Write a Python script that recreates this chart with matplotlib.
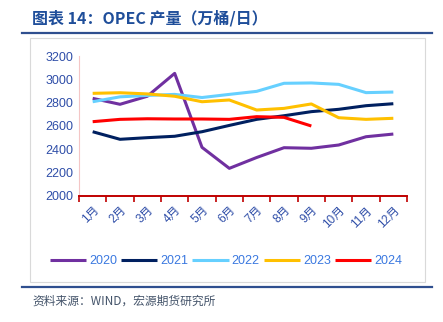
import matplotlib.pyplot as plt
from matplotlib.patches import Rectangle
from matplotlib.lines import Line2D
import numpy as np

months = ["1月", "2月", "3月", "4月", "5月", "6月", "7月", "8月", "9月", "10月", "11月", "12月"]

# OPEC output by month, 10k barrels/day
y2020 = [2837, 2786, 2855, 3051, 2417, 2237, 2330, 2414, 2409, 2437, 2508, 2531]
y2021 = [2551, 2486, 2500, 2512, 2551, 2605, 2657, 2688, 2723, 2743, 2774, 2791]
y2022 = [2808, 2850, 2862, 2871, 2844, 2871, 2897, 2966, 2969, 2957, 2886, 2891]
y2023 = [2880, 2885, 2875, 2855, 2808, 2823, 2737, 2751, 2789, 2671, 2657, 2666]
y2024 = [2637, 2657, 2662, 2660, 2660, 2657, 2680, 2674, 2600]

series = [("2020", y2020, "#7030a0"),
          ("2021", y2021, "#002060"),
          ("2022", y2022, "#66d0ff"),
          ("2023", y2023, "#ffc000"),
          ("2024", y2024, "#ff0000")]

W, H = 443, 322
fig = plt.figure(figsize=(W / 100, H / 100), dpi=100)

fnt = ["Liberation Sans", "Noto Sans CJK SC", "DejaVu Sans"]
cjk = ["Noto Sans CJK SC", "DejaVu Sans"]
tick_blue = "#2f4ea8"
leg_blue = "#3a78e0"

# header / footer rules and grey frame
fig.add_artist(Line2D([22 / W, 432 / W], [1 - 33 / H, 1 - 33 / H], color="#2f4f8f", lw=1.6))
fig.add_artist(Line2D([22 / W, 432 / W], [1 - 287 / H, 1 - 287 / H], color="#2f4f8f", lw=1.6))
fig.add_artist(Rectangle((30 / W, 1 - 282 / H), 395 / W, 244 / H, fill=False,
                         ec="#d9d9d9", lw=0.8, transform=fig.transFigure))

fig.text(32 / W, 1 - 18 / H, "图表 14：OPEC 产量（万桶/日）", family=cjk,
         fontsize=11.5, fontweight="bold", color="#1f4e9a", va="center")
fig.text(32 / W, 1 - 301 / H, "资料来源：WIND，宏源期货研究所", family=cjk,
         fontsize=8.5, color="#44546a", va="center", style="italic")

ax = fig.add_axes([79 / W, 1 - 196 / H, 328 / W, 140 / H])
x = np.arange(len(months))
for name, vals, col in series:
    ax.plot(x[:len(vals)], vals, color=col, lw=2.2, label=name, solid_capstyle="butt")

ax.set_xlim(-0.5, 11.5)
ax.set_ylim(2000, 3200)
ax.set_yticks(np.arange(2000, 3201, 200))
ax.set_xticks(x)
ax.set_xticks(np.arange(-0.5, 12, 1), minor=True)
ax.set_xticklabels(months, rotation=45, ha="right", va="top", rotation_mode="anchor",
                   family=fnt, fontsize=8.5, color=tick_blue)
ax.tick_params(axis="x", which="major", length=0, pad=6)
ax.tick_params(axis="x", which="minor", length=4, width=1.2, color="#c00000", direction="out")
ax.tick_params(axis="y", length=0, pad=4)
for lbl in ax.get_yticklabels():
    lbl.set_family(fnt)
    lbl.set_fontsize(9)
    lbl.set_color(tick_blue)

for s in ["top", "right"]:
    ax.spines[s].set_visible(False)
ax.spines["left"].set_color("#f4c6c6")
ax.spines["left"].set_linewidth(0.8)
ax.spines["bottom"].set_color("#c00000")
ax.spines["bottom"].set_linewidth(1.4)

handles, labels = ax.get_legend_handles_labels()
leg = fig.legend(handles, labels, loc="center", bbox_to_anchor=(226 / W, 1 - 261 / H),
                 ncol=5, frameon=False, handlelength=2.9, handletextpad=0.25,
                 columnspacing=0.3, prop={"family": fnt, "size": 9})
for t in leg.get_texts():
    t.set_color(leg_blue)

fig.savefig("out.png", dpi=100)
